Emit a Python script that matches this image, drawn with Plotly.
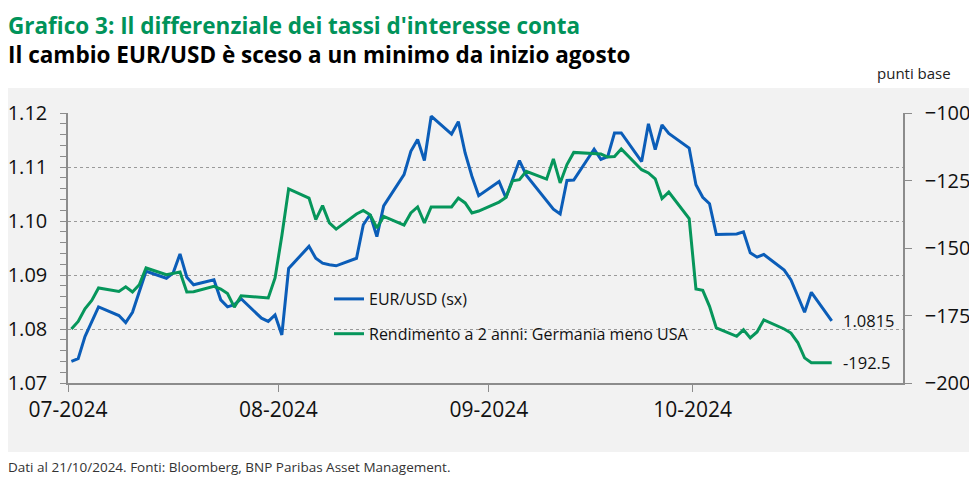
import pandas as pd
import plotly.graph_objects as go
from plotly.subplots import make_subplots

# date lavorative dal 1 luglio al 21 ottobre 2024
dates = pd.bdate_range("2024-07-01", "2024-10-21")

# EUR/USD (asse sinistro)
eurusd_jul = [1.0740, 1.0745, 1.0786, 1.0814, 1.0841, 1.0825, 1.0812, 1.0831, 1.0870, 1.0907,
              1.0894, 1.0904, 1.0939, 1.0896, 1.0882, 1.0891, 1.0854, 1.0841, 1.0845, 1.0856,
              1.0820, 1.0814, 1.0826]
eurusd_aug = [1.0789, 1.0912, 1.0953, 1.0931, 1.0922, 1.0919, 1.0917, 1.0931, 1.0993, 1.1012,
              1.0971, 1.1028, 1.1086, 1.1129, 1.1151, 1.1112, 1.1194, 1.1161, 1.1184, 1.1126,
              1.1083, 1.1047]
eurusd_sep = [1.1073, 1.1043, 1.1076, 1.1112, 1.1085, 1.1038, 1.1022, 1.1013, 1.1075, 1.1076,
              1.1133, 1.1114, 1.1119, 1.1163, 1.1163, 1.1110, 1.1180, 1.1132, 1.1178, 1.1162,
              1.1135]
eurusd_oct = [1.1067, 1.1044, 1.1032, 1.0975, 1.0976, 1.0980, 1.0941, 1.0933, 1.0938, 1.0909,
              1.0891, 1.0862, 1.0831, 1.0868, 1.0815]

# differenziale rendimenti 2 anni Germania - USA, punti base (asse destro)
spread_jul = [-180.0, -177.2, -172.5, -169.4, -164.8, -166.1, -164.4, -166.3, -163.6, -157.4,
              -159.9, -159.5, -158.9, -166.3, -166.2, -164.2, -165.2, -166.9, -171.9, -167.7,
              -168.3, -168.5, -161.1]
spread_aug = [-145.5, -128.1, -131.5, -139.5, -134.3, -140.7, -143.0, -137.4, -136.1, -137.7,
              -142.6, -138.3, -141.5, -137.0, -134.8, -140.7, -134.8, -134.8, -131.5, -133.3,
              -137.0, -136.3]
spread_sep = [-133.0, -131.3, -125.1, -124.7, -121.6, -124.5, -117.0, -125.9, -119.1, -114.6,
              -115.1, -115.2, -116.3, -116.1, -113.3, -121.0, -122.2, -124.4, -131.7, -129.3,
              -139.1]
spread_oct = [-165.2, -165.7, -171.6, -179.6, -182.7, -180.3, -183.3, -181.1, -176.6, -180.0,
              -181.5, -185.0, -190.7, -192.5, -192.5]

eurusd = eurusd_jul + eurusd_aug + eurusd_sep + eurusd_oct
spread = spread_jul + spread_aug + spread_sep + spread_oct

month_ticks = ["2024-07-01", "2024-08-01", "2024-09-01", "2024-10-01"]
month_labels = ["07-2024", "08-2024", "09-2024", "10-2024"]
left_ticks = [1.07, 1.08, 1.09, 1.10, 1.11, 1.12]
right_ticks = [-200, -175, -150, -125, -100]

BLUE = "#0B5DB8"
GREEN = "#06965B"
BG = "#F2F2F2"
AXIS = "#8C8C8C"
FONT = "Open Sans"
TXT = "#111111"

# la pagina html ha 8px di margine sul body: la figura copre la parte visibile
OFF = 8
W, H = 977 - OFF, 477 - OFF
# area del grafico nel riferimento: x 68..903, y 113..383
L, T = 68 - OFF, 113 - OFF
R, B = W - (903 - OFF), H - (383 - OFF)
pw, ph = W - L - R, H - T - B


def px_x(x):
    """pixel orizzontale del riferimento -> coordinata paper"""
    return (x - OFF - L) / pw


def px_y(y):
    """pixel verticale del riferimento (dall'alto) -> coordinata paper"""
    return (H - B - (y - OFF)) / ph


def text_note(fig, x, y, text, size, color, xanchor="left", yanchor="middle", xshift=0):
    fig.add_annotation(x=px_x(x), y=px_y(y), xref="paper", yref="paper",
                       xanchor=xanchor, yanchor=yanchor, align="left", text=text,
                       showarrow=False, xshift=xshift,
                       font=dict(family=FONT, size=size, color=color))


fig = make_subplots(specs=[[{"secondary_y": True}]])

fig.add_trace(go.Scatter(x=dates, y=eurusd, mode="lines", name="EUR/USD (sx)",
                         legendgroup="a", line=dict(color=BLUE, width=3),
                         xperiod=86400000, xperiodalignment="middle"),
              secondary_y=False)
fig.add_trace(go.Scatter(x=dates, y=spread, mode="lines",
                         name="Rendimento a 2 anni: Germania meno USA",
                         legendgroup="b", line=dict(color=GREEN, width=3),
                         xperiod=86400000, xperiodalignment="middle"),
              secondary_y=True)

# etichette ultimo valore
fig.add_annotation(x=dates[-1], y=eurusd[-1], yref="y", text=f"{eurusd[-1]:.4f}",
                   showarrow=False, xanchor="left", xshift=13,
                   font=dict(family=FONT, size=16.5, color=TXT))
fig.add_annotation(x=dates[-1], y=spread[-1], yref="y2", text=f"{spread[-1]:.1f}",
                   showarrow=False, xanchor="left", xshift=13,
                   font=dict(family=FONT, size=16.5, color=TXT))

# titolo su due righe in un'unica annotazione
title = ("<b><span style='color:#00935A'>Grafico 3: Il differenziale dei tassi d'interesse conta</span>"
         "<br>Il cambio EUR/USD è sceso a un minimo da inizio agosto</b>")
text_note(fig, 8, 8, title, 22.5, "#000000", yanchor="top", xshift=-2)
text_note(fig, 914, 73, "punti base", 15, "#222222", xanchor="center")
text_note(fig, 8, 467, "Dati al 21/10/2024. Fonti: Bloomberg, BNP Paribas Asset Management.", 13.5,
          "#333333", xshift=-2)

# sfondo grigio
fig.add_shape(type="rect", xref="paper", yref="paper", layer="below",
              x0=px_x(OFF), x1=px_x(977), y0=px_y(452), y1=px_y(88),
              fillcolor=BG, line=dict(width=0))

fig.update_xaxes(range=["2024-07-01", "2024-11-01"], tickvals=month_ticks, ticktext=month_labels,
                 domain=[0, 1], showgrid=False, showline=True, linecolor=AXIS, linewidth=1.5,
                 ticks="outside", ticklen=7, tickcolor=AXIS, automargin=False,
                 tickfont=dict(family=FONT, size=21, color=TXT))
fig.update_yaxes(range=[1.07, 1.12], tickvals=left_ticks, tickformat=".2f",
                 showgrid=True, gridcolor="#9A9A9A", griddash="dot", gridwidth=1,
                 showline=True, linecolor=AXIS, linewidth=1.5, automargin=False,
                 ticks="outside", ticklen=6, tickcolor=AXIS, ticklabelstandoff=9,
                 minor=dict(dtick=0.002, ticks="outside", ticklen=6, tickcolor=AXIS, showgrid=False),
                 tickfont=dict(family=FONT, size=20, color=TXT), zeroline=False,
                 secondary_y=False)
fig.update_yaxes(range=[-200, -100], tickvals=right_ticks, showgrid=False,
                 showline=True, linecolor=AXIS, linewidth=1.5, automargin=False,
                 ticks="outside", ticklen=7, tickcolor=AXIS, ticklabelstandoff=9,
                 tickfont=dict(family=FONT, size=20, color=TXT), zeroline=False,
                 secondary_y=True)

fig.update_layout(
    width=W, height=H,
    margin=dict(l=L, r=R, t=T, b=B),
    paper_bgcolor="white", plot_bgcolor=BG,
    showlegend=True,
    legend=dict(x=px_x(329), y=px_y(282), xanchor="left", yanchor="top",
                bgcolor="rgba(0,0,0,0)", traceorder="grouped", tracegroupgap=11,
                itemwidth=30, font=dict(family=FONT, size=16, color=TXT)),
    hovermode="x unified",
)

fig.write_html("out.html")
